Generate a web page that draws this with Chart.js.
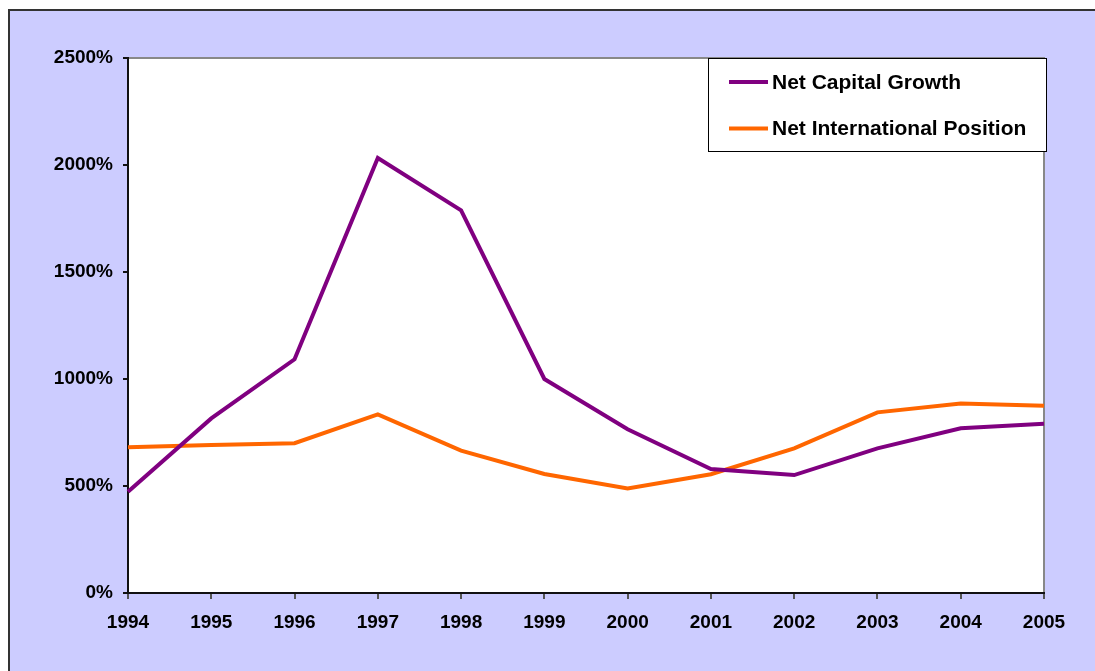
<!DOCTYPE html>
<html>
<head>
<meta charset="utf-8">
<script src="https://cdn.jsdelivr.net/npm/chart.js@4"></script>
<style>
html,body{margin:0;padding:0;background:#fff;}
#wrap{position:absolute;left:0;top:0;width:1095px;height:671px;}
</style>
</head>
<body>
<div id="wrap"><canvas id="c" width="1095" height="671"></canvas></div>
<script>
const years = ['1994','1995','1996','1997','1998','1999','2000','2001','2002','2003','2004','2005'];
const netCapitalGrowth = [473, 816, 1092, 2033, 1788, 1000, 765, 579, 551, 676, 770, 791];
const netInternationalPosition = [681, 692, 700, 835, 665, 556, 489, 555, 676, 844, 886, 875];
const seriesNames = ['Net Capital Growth', 'Net International Position'];
const seriesColors = ['#800080', '#FF6600'];
const yMin = 0, yMax = 2500, yStep = 500;

Chart.defaults.font.family = "'Liberation Sans', Arial, sans-serif";
Chart.defaults.font.weight = 'bold';
Chart.defaults.font.size = 19;
Chart.defaults.color = '#000';

const bgPlugin = {
  id: 'bg',
  beforeDraw(chart) {
    const ctx = chart.ctx, a = chart.chartArea;
    ctx.save();
    ctx.fillStyle = '#ffffff';
    ctx.fillRect(0, 0, chart.width, chart.height);
    ctx.fillStyle = '#CCCCFF';
    ctx.fillRect(8, 9, chart.width - 8, chart.height - 9);
    ctx.strokeStyle = '#333333';
    ctx.lineWidth = 2;
    ctx.beginPath();
    ctx.moveTo(9, chart.height);
    ctx.lineTo(9, 10);
    ctx.lineTo(chart.width, 10);
    ctx.stroke();
    ctx.fillStyle = '#ffffff';
    ctx.fillRect(a.left, a.top, a.right - a.left, a.bottom - a.top);
    ctx.strokeStyle = '#888888';
    ctx.lineWidth = 2;
    ctx.beginPath();
    ctx.moveTo(a.left, a.top);
    ctx.lineTo(a.right, a.top);
    ctx.lineTo(a.right, a.bottom);
    ctx.stroke();
    ctx.restore();
  }
};

const legendPlugin = {
  id: 'boxLegend',
  afterDraw(chart) {
    const ctx = chart.ctx;
    const x = 708.5, y = 58.5, w = 338, h = 93;
    ctx.save();
    ctx.fillStyle = '#ffffff';
    ctx.fillRect(x, y, w, h);
    ctx.strokeStyle = '#000000';
    ctx.lineWidth = 1;
    ctx.strokeRect(x, y, w, h);
    ctx.font = "bold 21px 'Liberation Sans', Arial, sans-serif";
    ctx.textBaseline = 'middle';
    ctx.fillStyle = '#000';
    chart.data.datasets.forEach((ds, i) => {
      const yy = 82 + i * 46.5;
      ctx.strokeStyle = ds.borderColor;
      ctx.lineWidth = 4;
      ctx.beginPath();
      ctx.moveTo(729, yy);
      ctx.lineTo(768, yy);
      ctx.stroke();
      ctx.fillText(ds.label, 772, yy + 1);
    });
    ctx.restore();
  }
};

new Chart(document.getElementById('c'), {
  type: 'line',
  data: {
    labels: years,
    datasets: [
      { label: seriesNames[0], data: netCapitalGrowth, borderColor: seriesColors[0], backgroundColor: seriesColors[0], borderWidth: 4, pointRadius: 0, tension: 0, fill: false },
      { label: seriesNames[1], data: netInternationalPosition, borderColor: seriesColors[1], backgroundColor: seriesColors[1], borderWidth: 4, pointRadius: 0, tension: 0, fill: false }
    ]
  },
  options: {
    responsive: false,
    animation: false,
    layout: { padding: { left: 0, top: 58, right: 51, bottom: 0 } },
    plugins: { legend: { display: false }, tooltip: { enabled: false } },
    scales: {
      x: {
        offset: false,
        grid: { drawOnChartArea: false, drawTicks: true, tickLength: 6, color: '#555', lineWidth: 2 },
        border: { display: true, color: '#111', width: 2 },
        ticks: { padding: 12, maxRotation: 0, autoSkip: false, font: { size: 19, weight: 'bold' } },
        afterFit(s) { s.height = 78; }
      },
      y: {
        min: yMin, max: yMax,
        grid: { drawOnChartArea: false, drawTicks: true, tickLength: 5, color: '#111', lineWidth: 2 },
        border: { display: true, color: '#111', width: 2 },
        ticks: { stepSize: yStep, padding: 10, font: { size: 19, weight: 'bold' }, callback: v => v + '%' },
        afterFit(s) { s.width = 128; }
      }
    }
  },
  plugins: [bgPlugin, legendPlugin]
});
</script>
</body>
</html>
